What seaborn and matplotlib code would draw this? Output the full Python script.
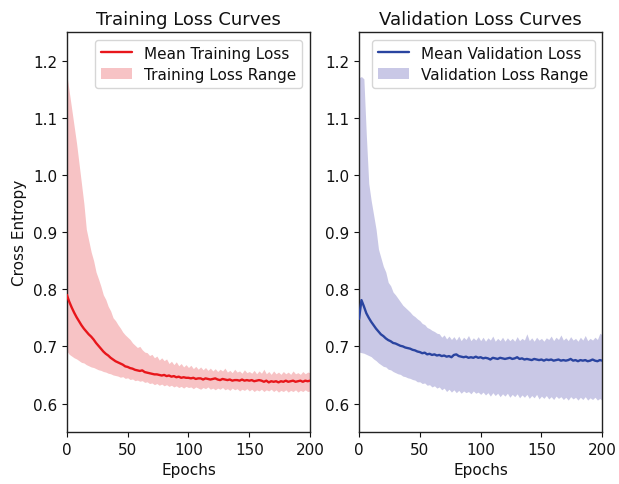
import numpy as np
import pandas as pd
import matplotlib
matplotlib.use("Agg")
import matplotlib.pyplot as plt
import seaborn as sns

epochs = list(range(0, 201, 2))

train_mean = [
    0.790, 0.778, 0.768, 0.759, 0.751, 0.744, 0.737, 0.731, 0.726, 0.721,
    0.717, 0.712, 0.706, 0.701, 0.696, 0.691, 0.687, 0.684, 0.680, 0.677,
    0.674, 0.672, 0.670, 0.668, 0.665, 0.664, 0.662, 0.661, 0.659, 0.658,
    0.657, 0.658, 0.655, 0.654, 0.653, 0.652, 0.651, 0.651, 0.650, 0.649,
    0.650, 0.648, 0.649, 0.647, 0.648, 0.646, 0.647, 0.645, 0.646, 0.645,
    0.645, 0.644, 0.645, 0.643, 0.644, 0.644, 0.642, 0.644, 0.643, 0.642,
    0.643, 0.644, 0.642, 0.641, 0.643, 0.642, 0.641, 0.642, 0.640, 0.641,
    0.641, 0.640, 0.642, 0.640, 0.641, 0.640, 0.641, 0.639, 0.640, 0.641,
    0.640, 0.638, 0.640, 0.637, 0.639, 0.638, 0.639, 0.637, 0.639, 0.638,
    0.640, 0.638, 0.639, 0.640, 0.638, 0.639, 0.640, 0.638, 0.640, 0.639, 0.640]

train_upper = [
    1.175, 1.145, 1.115, 1.085, 1.055, 1.020, 0.985, 0.950, 0.905, 0.885,
    0.865, 0.850, 0.830, 0.818, 0.805, 0.790, 0.782, 0.770, 0.762, 0.750,
    0.745, 0.738, 0.732, 0.725, 0.720, 0.716, 0.712, 0.706, 0.702, 0.698,
    0.700, 0.694, 0.690, 0.689, 0.684, 0.686, 0.680, 0.683, 0.676, 0.680,
    0.675, 0.678, 0.670, 0.674, 0.668, 0.673, 0.666, 0.670, 0.664, 0.668,
    0.663, 0.667, 0.661, 0.665, 0.660, 0.664, 0.659, 0.663, 0.658, 0.662,
    0.657, 0.661, 0.656, 0.660, 0.657, 0.662, 0.655, 0.658, 0.654, 0.660,
    0.655, 0.657, 0.653, 0.659, 0.654, 0.656, 0.653, 0.658, 0.652, 0.657,
    0.653, 0.660, 0.652, 0.656, 0.651, 0.657, 0.652, 0.655, 0.651, 0.656,
    0.652, 0.655, 0.651, 0.657, 0.652, 0.654, 0.651, 0.656, 0.652, 0.655, 0.654]

train_lower = [
    0.692, 0.686, 0.683, 0.680, 0.678, 0.675, 0.672, 0.671, 0.668, 0.666,
    0.664, 0.663, 0.661, 0.659, 0.658, 0.656, 0.655, 0.653, 0.652, 0.650,
    0.649, 0.648, 0.646, 0.647, 0.644, 0.645, 0.642, 0.643, 0.640, 0.641,
    0.639, 0.640, 0.637, 0.638, 0.635, 0.636, 0.633, 0.635, 0.632, 0.634,
    0.631, 0.633, 0.630, 0.632, 0.629, 0.631, 0.628, 0.630, 0.627, 0.630,
    0.628, 0.629, 0.626, 0.629, 0.627, 0.625, 0.628, 0.626, 0.629, 0.625,
    0.627, 0.624, 0.627, 0.625, 0.628, 0.624, 0.626, 0.623, 0.627, 0.624,
    0.626, 0.622, 0.625, 0.623, 0.626, 0.622, 0.625, 0.621, 0.624, 0.622,
    0.625, 0.621, 0.624, 0.622, 0.625, 0.621, 0.624, 0.620, 0.623, 0.621,
    0.624, 0.620, 0.623, 0.621, 0.624, 0.620, 0.623, 0.621, 0.624, 0.621, 0.622]

val_mean = [
    0.748, 0.781, 0.770, 0.758, 0.750, 0.743, 0.737, 0.731, 0.726, 0.721,
    0.718, 0.714, 0.711, 0.709, 0.706, 0.705, 0.703, 0.701, 0.700, 0.698,
    0.697, 0.696, 0.694, 0.693, 0.691, 0.690, 0.688, 0.689, 0.686, 0.687,
    0.685, 0.686, 0.684, 0.685, 0.683, 0.684, 0.682, 0.683, 0.681, 0.685,
    0.686, 0.683, 0.682, 0.681, 0.682, 0.680, 0.681, 0.680, 0.682, 0.680,
    0.681, 0.679, 0.680, 0.679, 0.677, 0.680, 0.679, 0.678, 0.680, 0.679,
    0.678, 0.679, 0.680, 0.678, 0.679, 0.681, 0.678, 0.679, 0.677, 0.678,
    0.677, 0.676, 0.678, 0.677, 0.676, 0.677, 0.675, 0.677, 0.676, 0.677,
    0.675, 0.676, 0.677, 0.675, 0.676, 0.675, 0.676, 0.678, 0.675, 0.676,
    0.674, 0.676, 0.675, 0.676, 0.674, 0.675, 0.677, 0.675, 0.674, 0.676, 0.675]

val_upper = [
    1.170, 1.172, 1.168, 1.070, 0.985, 0.955, 0.930, 0.905, 0.870, 0.855,
    0.840, 0.830, 0.812, 0.806, 0.795, 0.790, 0.784, 0.778, 0.772, 0.768,
    0.764, 0.760, 0.755, 0.752, 0.748, 0.745, 0.740, 0.738, 0.733, 0.731,
    0.728, 0.726, 0.723, 0.722, 0.716, 0.720, 0.713, 0.718, 0.712, 0.717,
    0.711, 0.718, 0.710, 0.716, 0.712, 0.719, 0.710, 0.715, 0.711, 0.717,
    0.710, 0.716, 0.709, 0.715, 0.711, 0.718, 0.709, 0.714, 0.710, 0.716,
    0.709, 0.715, 0.710, 0.714, 0.709, 0.717, 0.710, 0.714, 0.711, 0.722,
    0.710, 0.715, 0.709, 0.716, 0.711, 0.714, 0.709, 0.715, 0.712, 0.718,
    0.710, 0.716, 0.712, 0.720, 0.711, 0.715, 0.710, 0.717, 0.711, 0.714,
    0.709, 0.716, 0.711, 0.719, 0.710, 0.714, 0.711, 0.716, 0.712, 0.723, 0.720]

val_lower = [
    0.690, 0.689, 0.688, 0.686, 0.684, 0.682, 0.678, 0.675, 0.671, 0.668,
    0.665, 0.664, 0.660, 0.659, 0.656, 0.654, 0.652, 0.651, 0.648, 0.647,
    0.645, 0.644, 0.642, 0.641, 0.638, 0.638, 0.635, 0.636, 0.632, 0.633,
    0.629, 0.631, 0.627, 0.629, 0.624, 0.627, 0.621, 0.625, 0.620, 0.624,
    0.619, 0.623, 0.618, 0.622, 0.619, 0.621, 0.617, 0.622, 0.618, 0.620,
    0.616, 0.620, 0.615, 0.619, 0.613, 0.619, 0.614, 0.618, 0.612, 0.617,
    0.613, 0.618, 0.611, 0.616, 0.612, 0.617, 0.610, 0.615, 0.611, 0.616,
    0.609, 0.614, 0.610, 0.616, 0.608, 0.613, 0.609, 0.614, 0.608, 0.612,
    0.607, 0.613, 0.609, 0.612, 0.607, 0.611, 0.606, 0.612, 0.608, 0.611,
    0.606, 0.611, 0.607, 0.612, 0.606, 0.610, 0.607, 0.611, 0.606, 0.609, 0.605]

titles = ["Training Loss Curves", "Validation Loss Curves"]
mean_labels = ["Mean Training Loss", "Mean Validation Loss"]
range_labels = ["Training Loss Range", "Validation Loss Range"]
x_label = "Epochs"
y_label = "Cross Entropy"

sns.set_style("ticks")
plt.rcParams["font.family"] = ["DejaVu Sans"]
plt.rcParams["text.color"] = "#111111"
plt.rcParams["axes.labelcolor"] = "#111111"
plt.rcParams["xtick.color"] = "#111111"
plt.rcParams["ytick.color"] = "#111111"

fig = plt.figure(figsize=(6.19, 4.85), dpi=100)
ax1 = fig.add_axes([0.108, 0.107, 0.393, 0.825])
ax2 = fig.add_axes([0.580, 0.107, 0.393, 0.825])

panels = [
    (ax1, train_mean, train_lower, train_upper, "#e8161b", "#f7c3c5"),
    (ax2, val_mean, val_lower, val_upper, "#2a44a0", "#c9c8e6"),
]

for i, (ax, m, lo, hi, lc, fc) in enumerate(panels):
    df = pd.DataFrame({"epoch": epochs, "mean": m, "lower": lo, "upper": hi})
    sns.lineplot(data=df, x="epoch", y="mean", ax=ax, color=lc, linewidth=1.7,
                 label=mean_labels[i], zorder=3)
    ax.fill_between(df["epoch"], df["lower"], df["upper"], color=fc, linewidth=0,
                    label=range_labels[i], zorder=2)
    ax.set_xlim(0, 200)
    ax.set_ylim(0.55, 1.25)
    ax.set_xticks([0, 50, 100, 150, 200])
    ax.set_yticks([0.6, 0.7, 0.8, 0.9, 1.0, 1.1, 1.2])
    ax.set_title(titles[i], fontsize=13, pad=6)
    ax.set_xlabel(x_label, fontsize=11)
    ax.set_ylabel(y_label if i == 0 else "", fontsize=11)
    ax.tick_params(labelsize=11, length=3.5, width=0.8, direction="out")
    for s in ax.spines.values():
        s.set_visible(True)
        s.set_linewidth(1.0)
        s.set_color("#222222")
    leg = ax.legend(loc="upper right", fontsize=11, frameon=True, fancybox=True,
                    framealpha=0.8, edgecolor="#cccccc", handlelength=2.0,
                    borderpad=0.4, labelspacing=0.4)

fig.savefig("out.png", dpi=100)
